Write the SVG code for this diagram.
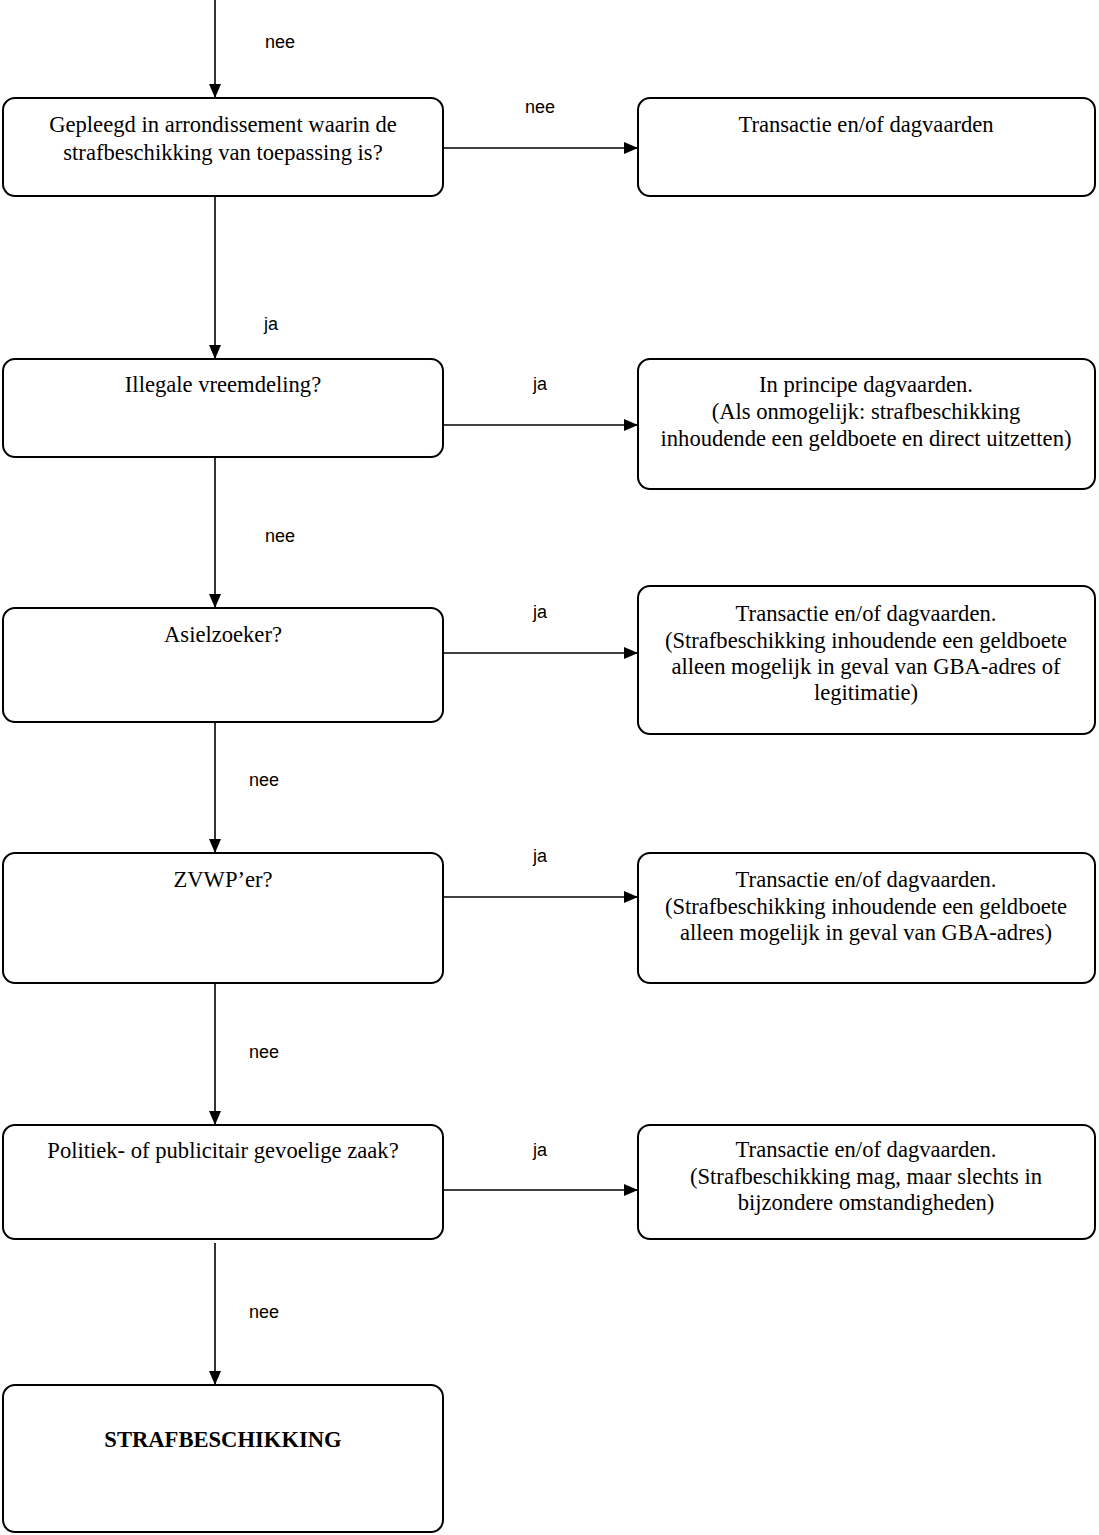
<svg xmlns="http://www.w3.org/2000/svg" width="1099" height="1535" viewBox="0 0 1099 1535">
<style>
.box{fill:#fff;stroke:#000;stroke-width:2}
.t{font-family:"Liberation Serif","Times New Roman",serif;font-size:22.6px;text-anchor:middle;fill:#000}
.b{font-weight:bold}
.lbl{font-family:"Liberation Sans",Arial,sans-serif;font-size:18px;text-anchor:middle;fill:#000}
.c{stroke:#000;stroke-width:1.6;fill:none;marker-end:url(#ah)}
</style>
<defs>
<marker id="ah" viewBox="0 0 14 12" refX="14" refY="6" markerWidth="14" markerHeight="12" markerUnits="userSpaceOnUse" orient="auto">
<path d="M0,0 L14,6 L0,12 z" fill="#000"/>
</marker>
</defs>
<rect width="1099" height="1535" fill="#fff"/>
<g id="connectors">
<line class="c" x1="215" y1="0" x2="215" y2="98"/>
<line class="c" x1="215" y1="196" x2="215" y2="359"/>
<line class="c" x1="215" y1="457" x2="215" y2="608"/>
<line class="c" x1="215" y1="722" x2="215" y2="853"/>
<line class="c" x1="215" y1="983" x2="215" y2="1125"/>
<line class="c" x1="215" y1="1243" x2="215" y2="1385"/>
<line class="c" x1="443" y1="148" x2="638" y2="148"/>
<line class="c" x1="443" y1="425" x2="638" y2="425"/>
<line class="c" x1="443" y1="653" x2="638" y2="653"/>
<line class="c" x1="443" y1="897" x2="638" y2="897"/>
<line class="c" x1="443" y1="1190" x2="638" y2="1190"/>
<text class="lbl" x="280" y="48">nee</text>
<text class="lbl" x="540" y="113">nee</text>
<text class="lbl" x="271" y="330">ja</text>
<text class="lbl" x="540" y="390">ja</text>
<text class="lbl" x="280" y="542">nee</text>
<text class="lbl" x="540" y="618">ja</text>
<text class="lbl" x="264" y="786">nee</text>
<text class="lbl" x="540" y="862">ja</text>
<text class="lbl" x="264" y="1058">nee</text>
<text class="lbl" x="540" y="1156">ja</text>
<text class="lbl" x="264" y="1318">nee</text>
</g>
<g id="q1">
<rect class="box" x="3" y="98" width="440" height="98" rx="12"/>
<text class="t" x="223" y="132">Gepleegd in arrondissement waarin de</text>
<text class="t" x="223" y="160">strafbeschikking van toepassing is?</text>
</g>
<g id="r1">
<rect class="box" x="638" y="98" width="457" height="98" rx="12"/>
<text class="t" x="866" y="132">Transactie en/of dagvaarden</text>
</g>
<g id="q2">
<rect class="box" x="3" y="359" width="440" height="98" rx="12"/>
<text class="t" x="223" y="392">Illegale vreemdeling?</text>
</g>
<g id="r2">
<rect class="box" x="638" y="359" width="457" height="130" rx="12"/>
<text class="t" x="866" y="392">In principe dagvaarden.</text>
<text class="t" x="866" y="419">(Als onmogelijk: strafbeschikking</text>
<text class="t" x="866" y="446">inhoudende een geldboete en direct uitzetten)</text>
</g>
<g id="q3">
<rect class="box" x="3" y="608" width="440" height="114" rx="12"/>
<text class="t" x="223" y="642">Asielzoeker?</text>
</g>
<g id="r3">
<rect class="box" x="638" y="586" width="457" height="148" rx="12"/>
<text class="t" x="866" y="621">Transactie en/of dagvaarden.</text>
<text class="t" x="866" y="648">(Strafbeschikking inhoudende een geldboete</text>
<text class="t" x="866" y="674">alleen mogelijk in geval van GBA-adres of</text>
<text class="t" x="866" y="700">legitimatie)</text>
</g>
<g id="q4">
<rect class="box" x="3" y="853" width="440" height="130" rx="12"/>
<text class="t" x="223" y="887">ZVWP’er?</text>
</g>
<g id="r4">
<rect class="box" x="638" y="853" width="457" height="130" rx="12"/>
<text class="t" x="866" y="887">Transactie en/of dagvaarden.</text>
<text class="t" x="866" y="914">(Strafbeschikking inhoudende een geldboete</text>
<text class="t" x="866" y="940">alleen mogelijk in geval van GBA-adres)</text>
</g>
<g id="q5">
<rect class="box" x="3" y="1125" width="440" height="114" rx="12"/>
<text class="t" x="223" y="1158">Politiek- of publicitair gevoelige zaak?</text>
</g>
<g id="r5">
<rect class="box" x="638" y="1125" width="457" height="114" rx="12"/>
<text class="t" x="866" y="1157">Transactie en/of dagvaarden.</text>
<text class="t" x="866" y="1184">(Strafbeschikking mag, maar slechts in</text>
<text class="t" x="866" y="1210">bijzondere omstandigheden)</text>
</g>
<g id="end">
<rect class="box" x="3" y="1385" width="440" height="147" rx="12"/>
<text class="t b" x="223" y="1447">STRAFBESCHIKKING</text>
</g>
</svg>
